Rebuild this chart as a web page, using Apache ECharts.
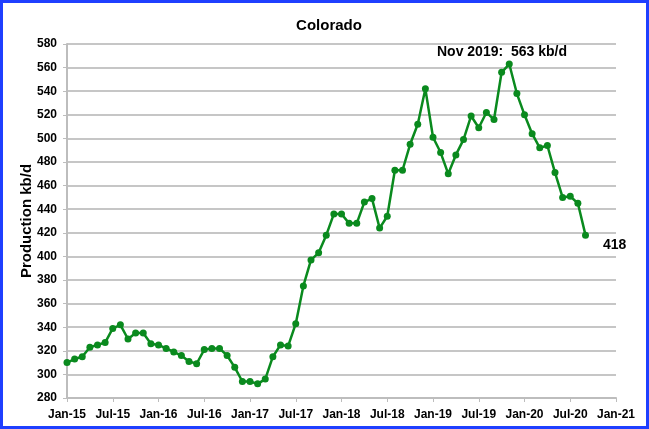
<!DOCTYPE html>
<html>
<head>
<meta charset="utf-8">
<script src="https://cdn.jsdelivr.net/npm/echarts@6/dist/echarts.min.js"></script>
<style>html,body{margin:0;padding:0;background:#fff;}#c{width:649px;height:429px;}</style>
</head>
<body>
<div id="c"></div>
<script>
// Monthly production, Jan-15 .. Sep-20 (kb/d)
const production = [
  310, 313, 315, 323, 325, 327, 339, 342, 330, 335, 335, 326,
  325, 322, 319, 316, 311, 309, 321, 322, 322, 316, 306, 294,
  294, 292, 296, 315, 325, 324, 343, 375, 397, 403, 418, 436,
  436, 428, 428, 446, 449, 424, 434, 473, 473, 495, 512, 542,
  501, 488, 470, 486, 499, 519, 509, 522, 516, 556, 563, 538,
  520, 504, 492, 494, 471, 450, 451, 445, 418
];
const tickLabels = ['Jan-15','Jul-15','Jan-16','Jul-16','Jan-17','Jul-17','Jan-18','Jul-18','Jan-19','Jul-19','Jan-20','Jul-20','Jan-21'];
const titleText = 'Colorado';
const yAxisName = 'Production kb/d';
const peakNote = 'Nov 2019:  563 kb/d';

const font = 'Liberation Sans, Arial, sans-serif';
const seriesData = production.map((v, i) => {
  const item = { value: [i, v] };
  if (i === production.length - 1) {
    item.label = { show: true, position: 'right', distance: 14, offset: [0, 10], formatter: String(v),
      fontWeight: 'bold', fontSize: 14, color: '#000', fontFamily: font };
  }
  return item;
});

const chart = echarts.init(document.getElementById('c'));
chart.setOption({
  animation: false,
  backgroundColor: '#fff',
  title: { text: titleText, left: 324, top: 13, textAlign: 'center',
    textStyle: { fontSize: 15, fontWeight: 'bold', color: '#000', fontFamily: font } },
  grid: { left: 67, right: 33, top: 44, bottom: 31 },
  xAxis: {
    type: 'value', min: 0, max: 72, interval: 6,
    axisLine: { show: true, lineStyle: { color: '#bdbdbd', width: 2 } },
    axisTick: { show: true, length: 4, lineStyle: { color: '#bdbdbd', width: 1 } },
    splitLine: { show: false },
    axisLabel: { formatter: v => tickLabels[v / 6] || '', fontSize: 12, fontWeight: 'bold', color: '#000', margin: 11, fontFamily: font }
  },
  yAxis: {
    type: 'value', min: 280, max: 580, interval: 20,
    name: yAxisName, nameLocation: 'middle', nameGap: 33, nameMoveOverlap: false,
    nameTextStyle: { fontSize: 15, fontWeight: 'bold', color: '#000', fontFamily: font },
    axisLine: { show: true, lineStyle: { color: '#bdbdbd', width: 2 } },
    axisTick: { show: true, length: 4, lineStyle: { color: '#bdbdbd', width: 1 } },
    splitLine: { show: true, lineStyle: { color: '#c6c6c6', width: 2 } },
    axisLabel: { fontSize: 12, fontWeight: 'bold', color: '#000', margin: 10, fontFamily: font }
  },
  series: [{
    type: 'line', data: seriesData,
    lineStyle: { color: '#0a8a1e', width: 2.5 },
    itemStyle: { color: '#0a8a1e' },
    symbol: 'circle', symbolSize: 7, showSymbol: true
  }],
  graphic: [
    { type: 'text', left: 437, top: 45, style: { text: peakNote, fontSize: 14, fontWeight: 'bold', fill: '#000', fontFamily: font } },
    { type: 'rect', shape: { x: 1.5, y: 1.5, width: 646, height: 426 }, style: { fill: 'none', stroke: '#1f3fff', lineWidth: 3 }, silent: true }
  ]
});
</script>
</body>
</html>
